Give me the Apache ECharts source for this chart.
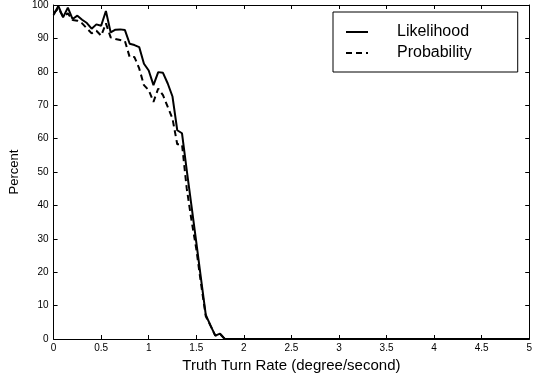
<!DOCTYPE html>
<html>
<head>
<meta charset="utf-8">
<script src="https://cdn.jsdelivr.net/npm/echarts@6/dist/echarts.min.js"></script>
<style>
  html, body { margin: 0; padding: 0; background: #fff; }
  #chart { width: 535px; height: 380px; }
</style>
</head>
<body>
<div id="chart"></div>
<script>
// Turn rate samples (degree/second)
const turnRate = [
  0, 0.05, 0.1, 0.15, 0.2, 0.25, 0.3, 0.35, 0.4, 0.45,
  0.5, 0.55, 0.6, 0.65, 0.7, 0.75, 0.8, 0.85, 0.9, 0.95,
  1.0, 1.05, 1.1, 1.15, 1.2, 1.25, 1.3, 1.35, 1.4, 1.45,
  1.5, 1.55, 1.6, 1.65, 1.7, 1.75, 1.8, 5.0
];
// Detection percentage, likelihood method
const likelihood = [
  97, 99.7, 96.3, 99.2, 95.8, 96.8, 95.6, 94.6, 92.9, 94.2,
  93.8, 98.2, 91.8, 92.6, 92.7, 92.5, 88.4, 88, 87.4, 82.4,
  80.4, 76, 79.9, 79.7, 76.5, 72.6, 62.5, 61.6, 50.5, 39.8,
  29, 18, 7.2, 4, 1, 1.6, 0, 0
];
// Detection percentage, probability method
const probability = [
  97.5, 99, 96.5, 97.5, 95.5, 95.3, 94.5, 93, 91.5, 92.3,
  90.8, 94.5, 90.3, 89.8, 89.5, 89.2, 84.4, 84.4, 81, 76,
  74.5, 71, 75, 73, 69.5, 66, 58.3, 58.3, 45, 35.5,
  27, 16.5, 6.8, 4, 1, 1.5, 0, 0
];
const xTicks = [0, 0.5, 1, 1.5, 2, 2.5, 3, 3.5, 4, 4.5, 5];
const yTicks = [0, 10, 20, 30, 40, 50, 60, 70, 80, 90, 100];

const pairs = (ys) => turnRate.map((x, i) => [x, ys[i]]);
const FONT = '"Liberation Sans", Arial, Helvetica, sans-serif';

const chart = echarts.init(document.getElementById('chart'), null, { renderer: 'canvas' });

const tickFmt = (v) => String(Math.round(v * 10) / 10);

chart.setOption({
  animation: false,
  backgroundColor: '#fff',
  grid: { left: 52, right: 4, top: 3, bottom: 41, containLabel: false },
  legend: {
    left: 333, top: 12,
    orient: 'vertical',
    itemWidth: 22, itemHeight: 14, itemGap: 5,
    padding: [12, 46, 11, 12],
    borderColor: '#000', borderWidth: 1,
    backgroundColor: '#fff',
    itemStyle: { opacity: 0 },
    textStyle: { fontFamily: FONT, fontSize: 16, color: '#000', padding: [0, 0, 0, 24] },
    data: ['Likelihood', 'Probability']
  },
  xAxis: [{
    type: 'value', min: xTicks[0], max: xTicks[xTicks.length - 1], interval: 0.5,
    position: 'bottom',
    name: 'Truth Turn Rate (degree/second)', nameLocation: 'middle', nameGap: 15,
    nameTextStyle: { fontFamily: FONT, fontSize: 15, color: '#000' },
    axisLine: { show: true, onZero: false, lineStyle: { color: '#000', width: 1 } },
    axisTick: { show: true, inside: true, length: 4, lineStyle: { color: '#000' } },
    axisLabel: { fontFamily: FONT, fontSize: 10, color: '#000', margin: 4, formatter: tickFmt },
    splitLine: { show: false }
  }, {
    type: 'value', min: xTicks[0], max: xTicks[xTicks.length - 1], interval: 0.5,
    position: 'top',
    axisLine: { show: true, onZero: false, lineStyle: { color: '#000', width: 1 } },
    axisTick: { show: true, inside: true, length: 4, lineStyle: { color: '#000' } },
    axisLabel: { show: false },
    splitLine: { show: false }
  }],
  yAxis: [{
    type: 'value', min: yTicks[0], max: yTicks[yTicks.length - 1], interval: 10,
    position: 'left',
    name: 'Percent', nameLocation: 'middle', nameGap: 23, nameRotate: 90,
    nameTextStyle: { fontFamily: FONT, fontSize: 13, color: '#000' },
    axisLine: { show: true, onZero: false, lineStyle: { color: '#000', width: 1 } },
    axisTick: { show: true, inside: true, length: 4, lineStyle: { color: '#000' } },
    axisLabel: { fontFamily: FONT, fontSize: 10, color: '#000', margin: 5 },
    splitLine: { show: false }
  }, {
    type: 'value', min: yTicks[0], max: yTicks[yTicks.length - 1], interval: 10,
    position: 'right',
    axisLine: { show: true, onZero: false, lineStyle: { color: '#000', width: 1 } },
    axisTick: { show: true, inside: true, length: 4, lineStyle: { color: '#000' } },
    axisLabel: { show: false },
    splitLine: { show: false }
  }],
  series: [{
    name: 'Likelihood', type: 'line', xAxisIndex: 0, yAxisIndex: 0,
    data: pairs(likelihood), showSymbol: false, symbol: 'none',
    lineStyle: { color: '#000', width: 2, type: 'solid' },
    itemStyle: { color: '#000' }
  }, {
    name: 'Probability', type: 'line', xAxisIndex: 0, yAxisIndex: 0,
    data: pairs(probability), showSymbol: false, symbol: 'none',
    lineStyle: { color: '#000', width: 2, type: [6, 4] },
    itemStyle: { color: '#000' }
  }]
});
</script>
</body>
</html>
